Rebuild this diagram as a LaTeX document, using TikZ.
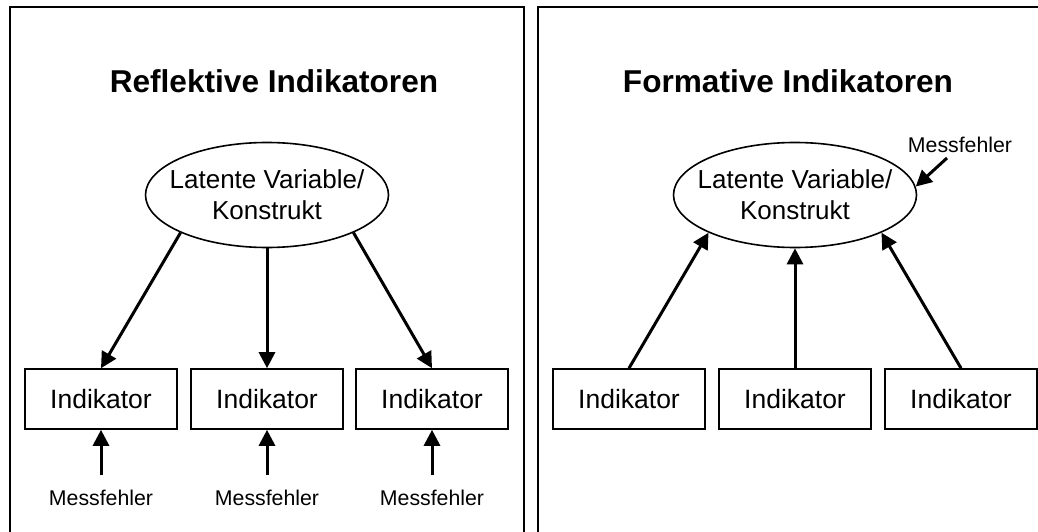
\documentclass[tikz,border=0pt]{standalone}
\usepackage{fontspec}
\setmainfont{Liberation Sans}
\usetikzlibrary{arrows.meta}
\usetikzlibrary{shapes.geometric}
\tikzset{
    panel/.style = {draw=black, line width=2pt},
    titel/.style = {inner sep=0pt, anchor=base, font=\fontsize{31.6}{37}\selectfont\bfseries},
    latent/.style = {ellipse, draw=black, line width=1.6pt, minimum width=243pt, minimum height=105pt, inner xsep=-16pt, inner ysep=-6pt, align=center, font=\fontsize{26}{31}\selectfont},
    indikator/.style = {rectangle, draw=black, line width=1.6pt, minimum width=152pt, minimum height=60pt, inner sep=0pt, font=\fontsize{26.5}{30}\selectfont},
    fehler/.style = {inner sep=0pt, anchor=base, font=\fontsize{21.3}{24}\selectfont},
    pfeil/.style = {->, line width=3pt}
}

\begin{document}
\begin{tikzpicture}
            [x=1pt, y=-1pt,
            >={Triangle[length=16pt, width=16pt]}]

            \useasboundingbox (0,0) rectangle (1038,532);

            % panels
            \draw [panel] (10,532) -- (10,7) -- (524,7) -- (524,532);
            \draw [panel] (538,532) -- (538,7) -- (1038,7);

            % reflective
            \node [titel] (tL) at (274,93) {Reflektive Indikatoren};
            \node [latent] (lvL) at (267,195) {Latente Variable/\\Konstrukt};
            \node [indikator] (iL1) at (101,399) {Indikator};
            \node [indikator] (iL2) at (267,399) {Indikator};
            \node [indikator] (iL3) at (432,399) {Indikator};
            \node [fehler] (fL1) at (101,505) {Messfehler};
            \node [fehler] (fL2) at (267,505) {Messfehler};
            \node [fehler] (fL3) at (432,505) {Messfehler};

            \draw [pfeil] (lvL.south west) -- (iL1.north);
            \draw [pfeil] (lvL.south) -- (iL2.north);
            \draw [pfeil] (lvL.south east) -- (iL3.north);
            \draw [pfeil, shorten <=14pt] (fL1.north) -- (iL1.south);
            \draw [pfeil, shorten <=14pt] (fL2.north) -- (iL2.south);
            \draw [pfeil, shorten <=14pt] (fL3.north) -- (iL3.south);

            % formative
            \node [titel] (tR) at (788,93) {Formative Indikatoren};
            \node [latent] (lvR) at (795,195) {Latente Variable/\\Konstrukt};
            \node [indikator] (iR1) at (629,399) {Indikator};
            \node [indikator] (iR2) at (795,399) {Indikator};
            \node [indikator] (iR3) at (961,399) {Indikator};
            \node [fehler] (fR) at (960,152) {Messfehler};
            \coordinate (fRs) at (947,158);

            \draw [pfeil] (iR1.north) -- (lvR.south west);
            \draw [pfeil] (iR2.north) -- (lvR.south);
            \draw [pfeil] (iR3.north) -- (lvR.south east);
            \draw [pfeil] (fRs) -- (lvR.4);
\end{tikzpicture}
\end{document}
